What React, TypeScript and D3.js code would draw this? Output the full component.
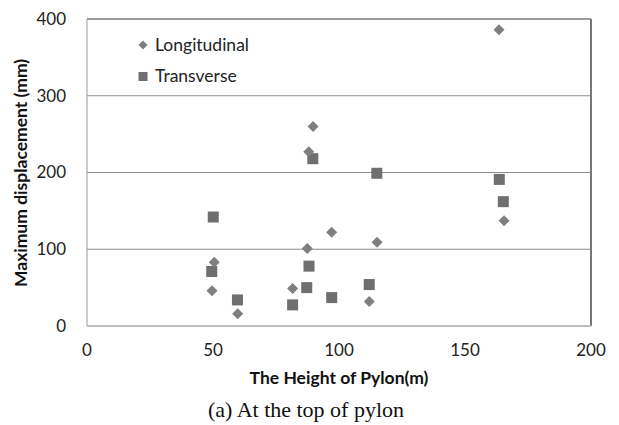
import React from "react";
import * as d3 from "d3";

const longX = [163.5, 89.7, 88, 50.5, 49.6, 59.8, 81.6, 87.4, 97.1, 115.1, 112, 165.5];
const longY = [386, 260, 227, 83, 46, 16, 49, 101, 122, 109, 32, 137];
const transX = [89.6, 115, 163.6, 165.2, 50.1, 49.5, 59.7, 81.6, 88.1, 87.2, 97.1, 112];
const transY = [218, 199, 191, 162, 142, 71, 34, 27.5, 78, 50, 37, 54];
const xTicks = [0, 50, 100, 150, 200];
const yTicks = [0, 100, 200, 300, 400];
const legendLabels = ["Longitudinal", "Transverse"];

export default function App() {
  const W = 619, H = 425;
  const left = 87, right = 591, top = 19, bottom = 326;
  const x = d3.scaleLinear().domain([0, 200]).range([left, right]);
  const y = d3.scaleLinear().domain([0, 400]).range([bottom, top]);
  const font = "Lato, 'Open Sans', sans-serif";
  const diamond = (cx: number, cy: number, r: number) =>
    `M${cx},${cy - r}L${cx + r},${cy}L${cx},${cy + r}L${cx - r},${cy}Z`;
  return (
    <svg width={W} height={H} style={{ position: "absolute", left: 0, top: 0 }}>
      <rect width={W} height={H} fill="#fff" />
      {yTicks.filter((t) => t > 0).map((t) => (
        <line key={t} x1={left} x2={right} y1={y(t)} y2={y(t)} stroke={t === 400 ? "#7a7a7a" : "#8c8c8c"} strokeWidth={t === 400 ? 1.5 : 1} />
      ))}
      <line x1={left} x2={left} y1={top} y2={bottom} stroke="#999" strokeWidth={1} />
      <line x1={right} x2={right} y1={top} y2={bottom} stroke="#777" strokeWidth={2} />
      <line x1={left} x2={right} y1={bottom} y2={bottom} stroke="#bdbdbd" strokeWidth={2} />
      {yTicks.map((t) => (
        <text key={t} x={66} y={y(t)} dy="0.35em" textAnchor="end" fontFamily={font} fontSize={17} fill="#222">{t}</text>
      ))}
      {xTicks.map((t) => (
        <text key={t} x={x(t)} y={350} dy="0.35em" textAnchor="middle" fontFamily={font} fontSize={17} fill="#222">{t}</text>
      ))}
      <text transform={`translate(21,173) rotate(-90)`} textAnchor="middle" dy="0.35em" fontFamily={font} fontWeight="bold" fontSize={17.5} fill="#111">Maximum displacement (mm)</text>
      <text x={339} y={378} dy="0.35em" textAnchor="middle" fontFamily={font} fontWeight="bold" fontSize={17.5} fill="#111">The Height of Pylon(m)</text>
      <text x={306} y={409} dy="0.35em" textAnchor="middle" fontFamily="'Liberation Serif', 'Times New Roman', serif" fontSize={22} fill="#111">(a) At the top of pylon</text>
      {transX.map((v, i) => (
        <rect key={"t" + i} x={x(v) - 5.5} y={y(transY[i]) - 5.5} width={11} height={11} fill="#6f6f6f" />
      ))}
      {longX.map((v, i) => (
        <path key={"l" + i} d={diamond(x(v), y(longY[i]), 5.5)} fill="#7f7f7f" />
      ))}
      <path d={diamond(143, 45, 4.5)} fill="#7f7f7f" />
      <text x={155} y={45} dy="0.35em" fontFamily={font} fontSize={17.5} fill="#222">{legendLabels[0]}</text>
      <rect x={138.5} y={72} width={9} height={9} fill="#6f6f6f" />
      <text x={155} y={76} dy="0.35em" fontFamily={font} fontSize={17.5} fill="#222">{legendLabels[1]}</text>
    </svg>
  );
}
